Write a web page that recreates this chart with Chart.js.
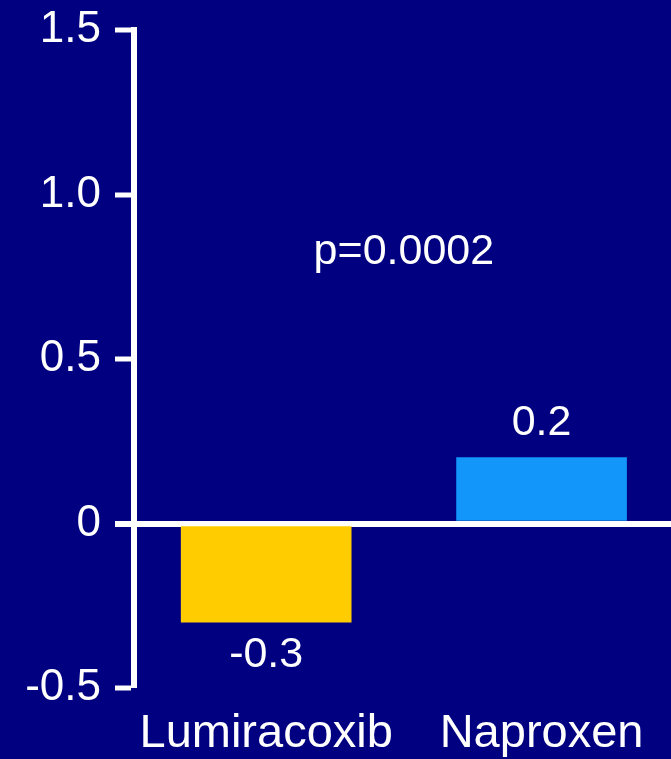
<!DOCTYPE html>
<html>
<head>
<meta charset="utf-8">
<title>Change from baseline</title>
<script src="https://cdn.jsdelivr.net/npm/chart.js@4/dist/chart.umd.min.js"></script>
<style>
  html, body { margin: 0; padding: 0; background: #000080; }
  canvas { display: block; }
</style>
</head>
<body>
<canvas id="chart" width="671" height="759"></canvas>
<script>
// Treatment groups and their mean change from baseline
const categories = ['Lumiracoxib', 'Naproxen'];
const changeValues = [-0.3, 0.2];
const barColors = ['#FFCC00', '#1296FA'];

// Value-axis tick labels, bottom to top
const yTickLabels = ['-0.5', '0', '0.5', '1.0', '1.5'];
const pValueLabel = 'p=0.0002';

const FONT = '"Liberation Sans", Arial, Helvetica, sans-serif';

// Writes each bar's value beyond its end, and the p-value between the groups
const valueLabels = {
  id: 'valueLabels',
  afterDatasetsDraw(chart) {
    const ctx = chart.ctx;
    const meta = chart.getDatasetMeta(0);
    ctx.save();
    ctx.fillStyle = '#FFFFFF';
    ctx.font = '43px ' + FONT;
    ctx.textAlign = 'center';
    ctx.textBaseline = 'alphabetic';
    meta.data.forEach((bar, i) => {
      const v = changeValues[i];
      const y = v >= 0 ? bar.y - 23 : bar.y + 45;
      ctx.fillText(String(v), bar.x, y);
    });
    const xs = chart.scales.x, ys = chart.scales.y;
    ctx.fillText(pValueLabel, xs.getPixelForValue(0.5), ys.getPixelForValue(0.79));
    ctx.restore();
  }
};

new Chart(document.getElementById('chart'), {
  type: 'bar',
  data: {
    datasets: [{
      data: categories.map((c, i) => ({ x: i, y: changeValues[i] })),
      backgroundColor: barColors,
      borderWidth: 0,
      barThickness: 170
    }]
  },
  options: {
    responsive: false,
    animation: false,
    layout: { padding: { top: 30, left: 0, right: 0, bottom: 0 } },
    plugins: {
      legend: { display: false },
      tooltip: { enabled: false }
    },
    scales: {
      x: {
        type: 'linear',
        offset: false,
        bounds: 'data',
        min: -0.48,
        max: 1.47,
        grid: { display: false, drawTicks: false, offset: false },
        border: { display: false },
        // one tick per treatment group
        afterBuildTicks: (s) => { s.ticks = categories.map((c, i) => ({ value: i })); },
        ticks: {
          autoSkip: false,
          maxRotation: 0,
          minRotation: 0,
          padding: 18,
          color: '#FFFFFF',
          font: { family: FONT, size: 47 },
          callback: (v) => categories[v] !== undefined ? categories[v] : ''
        },
        afterFit: (s) => { s.height = 71; s.paddingLeft = 0; s.paddingRight = 0; }
      },
      y: {
        min: -0.5,
        max: 1.5,
        grid: {
          drawOnChartArea: true,
          drawTicks: true,
          tickLength: 19,
          tickColor: '#FFFFFF',
          tickWidth: (c) => c.tick && c.tick.value === 0 ? 6 : 5,
          color: (c) => c.tick && c.tick.value === 0 ? '#FFFFFF' : 'rgba(0,0,0,0)',
          lineWidth: (c) => c.tick && c.tick.value === 0 ? 6 : 0
        },
        border: { display: true, color: '#FFFFFF', width: 6 },
        ticks: {
          stepSize: 0.5,
          padding: 14,
          color: '#FFFFFF',
          font: { family: FONT, size: 44 },
          callback: (v, i) => yTickLabels[i]
        },
        afterFit: (s) => { s.width = 134; s.paddingTop = 0; s.paddingBottom = 0; }
      }
    }
  },
  plugins: [valueLabels]
});
</script>
</body>
</html>
